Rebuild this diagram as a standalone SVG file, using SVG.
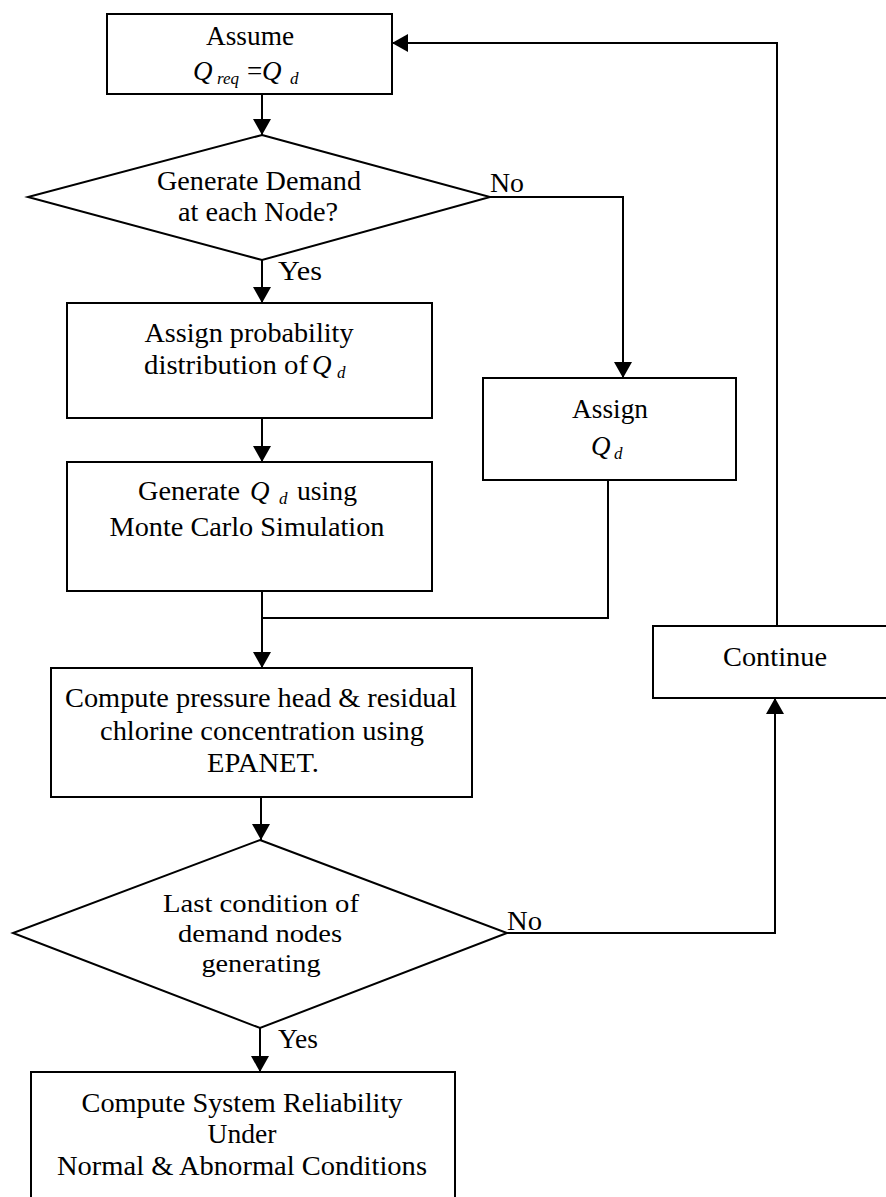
<svg xmlns="http://www.w3.org/2000/svg" width="886" height="1197" viewBox="0 0 886 1197">
<style>
text{font-family:"Liberation Serif","Times New Roman",serif;font-size:27px;fill:#000}
.m{text-anchor:middle}
.i{font-style:italic}
.s{font-style:italic;font-size:17px}
.d2{font-size:25px}
.box{fill:#fff;stroke:#000;stroke-width:2}
.c{fill:none;stroke:#000;stroke-width:2}
</style>
<defs>
<marker id="ah" viewBox="0 0 16 18" refX="16" refY="9" markerWidth="16" markerHeight="18" markerUnits="userSpaceOnUse" orient="auto">
<path d="M0,0 L16,9 L0,18 z" fill="#000"/>
</marker>
</defs>
<rect width="886" height="1197" fill="#fff"/>
<g id="connectors">
<path class="c" d="M262,94 V135" marker-end="url(#ah)"/>
<path class="c" d="M262,260 V303" marker-end="url(#ah)"/>
<path class="c" d="M490,197 H623 V378" marker-end="url(#ah)"/>
<path class="c" d="M262,418 V462" marker-end="url(#ah)"/>
<path class="c" d="M262,591 V668" marker-end="url(#ah)"/>
<path class="c" d="M608,480 V618 H262"/>
<path class="c" d="M261,797 V840" marker-end="url(#ah)"/>
<path class="c" d="M260,1028 V1072" marker-end="url(#ah)"/>
<path class="c" d="M507,933 H775 V698" marker-end="url(#ah)"/>
<path class="c" d="M777,626 V43 H392" marker-end="url(#ah)"/>
<text x="490" y="192" textLength="34" lengthAdjust="spacingAndGlyphs">No</text>
<text x="278" y="280" textLength="44" lengthAdjust="spacingAndGlyphs">Yes</text>
<text x="507" y="930" textLength="35" lengthAdjust="spacingAndGlyphs">No</text>
<text x="278" y="1048" textLength="40" lengthAdjust="spacingAndGlyphs">Yes</text>
</g>
<g id="assume">
<rect class="box" x="107" y="14" width="285" height="80"/>
<text class="m" x="250" y="45" textLength="88" lengthAdjust="spacingAndGlyphs">Assume</text>
<text class="i" x="193" y="80">Q</text>
<text class="s" x="217" y="84">req</text>
<text x="247" y="80">=</text>
<text class="i" x="262" y="80">Q</text>
<text class="s" x="290" y="84">d</text>
</g>
<g id="decision1">
<polygon class="box" points="262,135 490,197 262,260 28,197"/>
<text class="m" x="259" y="190" textLength="204" lengthAdjust="spacingAndGlyphs">Generate Demand</text>
<text class="m" x="258" y="221" textLength="160" lengthAdjust="spacingAndGlyphs">at each Node?</text>
</g>
<g id="assign-prob">
<rect class="box" x="67" y="303" width="365" height="115"/>
<text class="m" x="249" y="342" textLength="209" lengthAdjust="spacingAndGlyphs">Assign probability</text>
<text x="144" y="374" textLength="164" lengthAdjust="spacingAndGlyphs">distribution of</text>
<text class="i" x="312" y="374">Q</text>
<text class="s" x="337" y="378">d</text>
</g>
<g id="generate">
<rect class="box" x="67" y="462" width="365" height="129"/>
<text x="138" y="500" textLength="102" lengthAdjust="spacingAndGlyphs">Generate</text>
<text class="i" x="250" y="500">Q</text>
<text class="s" x="279" y="504">d</text>
<text x="297" y="500" textLength="60" lengthAdjust="spacingAndGlyphs">using</text>
<text class="m" x="247" y="536" textLength="275" lengthAdjust="spacingAndGlyphs">Monte Carlo Simulation</text>
</g>
<g id="assign">
<rect class="box" x="483" y="378" width="253" height="102"/>
<text class="m" x="610" y="418" textLength="76" lengthAdjust="spacingAndGlyphs">Assign</text>
<text class="i" x="591" y="455">Q</text>
<text class="s" x="614" y="459">d</text>
</g>
<g id="compute">
<rect class="box" x="51" y="668" width="421" height="129"/>
<text class="m" x="261" y="707" style="font-size:28px" textLength="392" lengthAdjust="spacingAndGlyphs">Compute pressure head &amp; residual</text>
<text class="m" x="262" y="740" style="font-size:28px" textLength="324" lengthAdjust="spacingAndGlyphs">chlorine concentration using</text>
<text class="m" x="263" y="772" style="font-size:28px" textLength="112" lengthAdjust="spacingAndGlyphs">EPANET.</text>
</g>
<g id="decision2">
<polygon class="box" points="260,840 507,933 260,1028 13,933"/>
<text class="m d2" x="261" y="912" textLength="196" lengthAdjust="spacingAndGlyphs">Last condition of</text>
<text class="m d2" x="260" y="942" textLength="164" lengthAdjust="spacingAndGlyphs">demand nodes</text>
<text class="m d2" x="261" y="972" textLength="119" lengthAdjust="spacingAndGlyphs">generating</text>
</g>
<g id="continue">
<rect class="box" x="653" y="626" width="240" height="72"/>
<text class="m" x="775" y="666" textLength="104" lengthAdjust="spacingAndGlyphs">Continue</text>
</g>
<g id="reliability">
<rect class="box" x="31" y="1072" width="424" height="140"/>
<text class="m" x="242" y="1112" textLength="321" lengthAdjust="spacingAndGlyphs">Compute System Reliability</text>
<text class="m" x="242" y="1143" textLength="69" lengthAdjust="spacingAndGlyphs">Under</text>
<text class="m" x="242" y="1175" textLength="370" lengthAdjust="spacingAndGlyphs">Normal &amp; Abnormal Conditions</text>
</g>
</svg>
